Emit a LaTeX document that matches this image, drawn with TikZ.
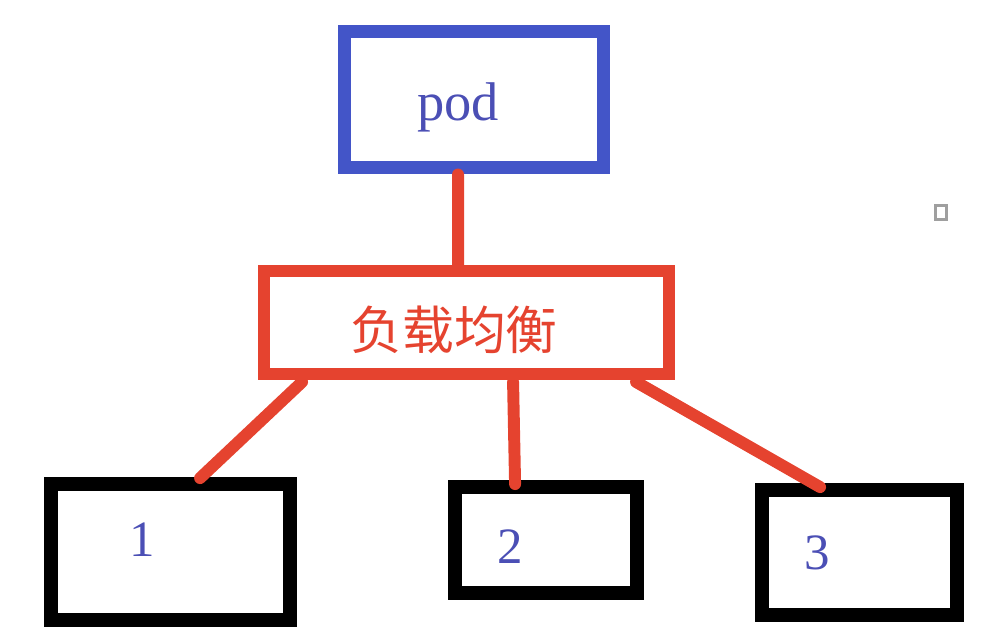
\documentclass[tikz,border=0pt]{standalone}
\usepackage{fontspec}
\setmainfont{Liberation Serif}
\newfontfamily\cjk{Noto Sans CJK SC}
\usepackage{tikz}
\usetikzlibrary{positioning, calc}
\definecolor{podblue}{HTML}{4355C8}
\definecolor{lbred}{HTML}{E5432F}
\definecolor{txtblue}{HTML}{4B4FB5}

\begin{document}
\begin{tikzpicture}[x=0.02cm, y=-0.02cm,
    podbox/.style={draw=podblue, line width=7.4pt, inner sep=0pt, minimum width=5.18cm, minimum height=2.74cm},
    lbbox/.style={draw=lbred, line width=6.8pt, inner sep=0pt, minimum width=8.1cm, minimum height=2.06cm},
    numbox/.style={draw=black, line width=7.9pt, inner sep=0pt},
    wire/.style={draw=lbred, line width=6.8pt, line cap=round},
    txt/.style={text=txtblue, font=\fontsize{31}{31}\selectfont},
    numtxt/.style={text=txtblue, font=\fontsize{29}{29}\selectfont}]
    \useasboundingbox (0,0) rectangle (1004,637);

    % boxes
    \node[podbox, label={[txt, xshift=-0.32cm, yshift=-0.15cm]center:pod}] (pod) at (474,99.5) {};
    \node[lbbox, label={[text=lbred, font=\cjk\fontsize{29.5}{29.5}\selectfont, xshift=-0.25cm, yshift=-0.15cm]center:负载均衡}] (lb) at (466.5,322.5) {};
    \node[numbox, minimum width=4.78cm, minimum height=2.72cm, label={[numtxt, xshift=-0.57cm, yshift=0.24cm]center:1}] (b1) at (170.5,552) {};
    \node[numbox, minimum width=3.64cm, minimum height=2.12cm, label={[numtxt, xshift=-0.72cm, yshift=-0.14cm]center:2}] (b2) at (546,540) {};
    \node[numbox, minimum width=3.9cm, minimum height=2.5cm, label={[numtxt, xshift=-0.85cm]center:3}] (b3) at (859.5,552.5) {};
    \node[draw=gray!75, line width=1.7pt, inner sep=0pt, minimum width=0.22cm, minimum height=0.28cm] (icon) at (940.5,212) {};

    % connectors
    \draw[wire] ($(pod.south west)+(120,0)$) -- ($(lb.north west)+(200,0)$);
    \draw[wire] ($(lb.south west)+(44,2)$) -- ($(b1.north west)+(156,1)$);
    \draw[wire] ($(lb.south west)+(255,2)$) -- ($(b2.north west)+(67,4)$);
    \draw[wire] ($(lb.south west)+(378,2)$) -- ($(b3.north west)+(65,4)$);
\end{tikzpicture}
\end{document}
